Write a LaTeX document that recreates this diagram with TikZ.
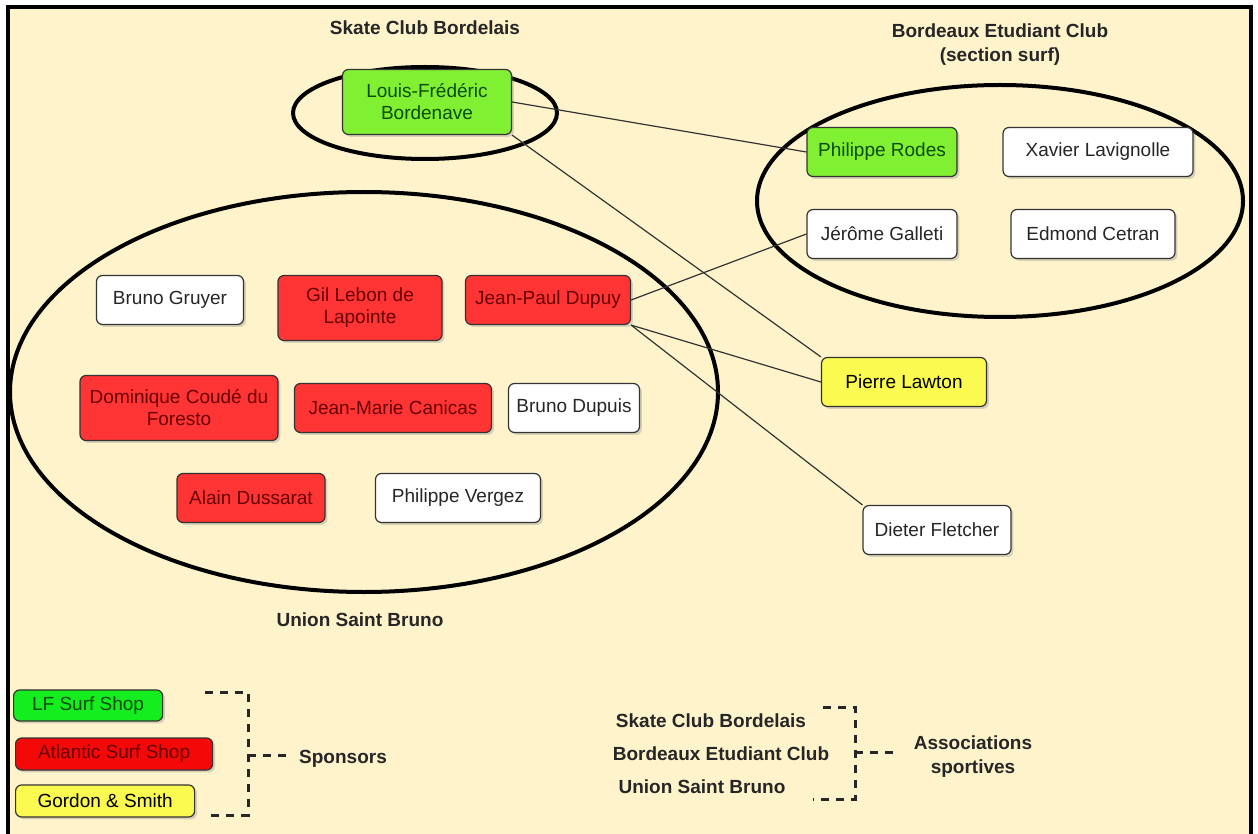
\documentclass[tikz,border=0pt]{standalone}
\usepackage{fontspec}
\setmainfont{Liberation Sans}
\usepackage{tikz}
\usetikzlibrary{positioning,shadows}

\definecolor{paper}{RGB}{255,243,204}
\definecolor{skategreen}{RGB}{130,240,50}
\definecolor{shopgreen}{RGB}{20,238,30}
\definecolor{clubred}{RGB}{255,52,52}
\definecolor{shopred}{RGB}{245,8,8}
\definecolor{gsyellow}{RGB}{250,250,80}
\definecolor{darkgreen}{RGB}{10,75,10}
\definecolor{darkred}{RGB}{105,0,0}

\tikzset{
	member/.style={draw=black!80, line width=0.6pt, rounded corners=3pt, fill=white,
		text=black!85, align=center, minimum height=24.5pt,
		font=\fontsize{9.5}{11}\selectfont,
		drop shadow={opacity=0.3, shadow xshift=1.2pt, shadow yshift=-1.2pt}},
	lfshop/.style={member, fill=skategreen, text=darkgreen},
	atlantic/.style={member, fill=clubred, text=darkred},
	gordon/.style={member, fill=gsyellow, text=black},
	club/.style={line width=2pt, black},
	clubname/.style={font=\bfseries\fontsize{9.5}{12}\selectfont, align=center, text=black!85},
	link/.style={line width=0.6pt, black!80},
	bracket/.style={line width=1.5pt, dash pattern=on 4pt off 3.5pt, black!85}
}

\begin{document}
\begin{tikzpicture}[x=0.5pt, y=-0.5pt]
	\fill[white] (0,0) rectangle (1258,834);
	\useasboundingbox (0,0) rectangle (1258,834);
	\fill[paper] (8,7) rectangle (1251,840);
	\draw[line width=2pt] (8,7) rectangle (1251,840);

	% associations
	\draw[club] (425,113) ellipse [x radius=132, y radius=46];
	\draw[club] (1000,201) ellipse [x radius=243, y radius=116];
	\draw[club] (364,392) ellipse [x radius=354, y radius=200];
	\node[clubname] (scb) at (425,28) {Skate Club Bordelais};
	\node[clubname] (bec) at (1000,45) {Bordeaux Etudiant Club\\(section surf)};
	\node[clubname] (usb) at (360,620) {Union Saint Bruno};

	% Skate Club Bordelais
	\node[lfshop, minimum width=84.5pt, minimum height=32.5pt] (bordenave) at (427,102) {Louis-Frédéric\\Bordenave};

	% Bordeaux Etudiant Club
	\node[lfshop, minimum width=75pt] (rodes) at (882,152) {Philippe Rodes};
	\node[member, minimum width=95pt] (lavignolle) at (1098,152) {Xavier Lavignolle};
	\node[member, minimum width=75pt] (galleti) at (882,234) {Jérôme Galleti};
	\node[member, minimum width=82pt] (cetran) at (1093,234) {Edmond Cetran};

	% Union Saint Bruno
	\node[member, minimum width=73.5pt] (gruyer) at (170,300) {Bruno Gruyer};
	\node[atlantic, minimum width=82pt, minimum height=32.5pt] (lebon) at (360,308) {Gil Lebon de\\Lapointe};
	\node[atlantic, minimum width=82.5pt] (dupuy) at (548,300) {Jean-Paul Dupuy};
	\node[atlantic, minimum width=99pt, minimum height=32.5pt] (foresto) at (179,408) {Dominique Coudé du\\Foresto};
	\node[atlantic, minimum width=98.5pt] (canicas) at (393,408) {Jean-Marie Canicas};
	\node[member, minimum width=65.5pt] (dupuis) at (574,408) {Bruno Dupuis};
	\node[atlantic, minimum width=74pt] (dussarat) at (251,498) {Alain Dussarat};
	\node[member, minimum width=82.5pt] (vergez) at (458,498) {Philippe Vergez};

	% outside
	\node[gordon, minimum width=82.5pt] (lawton) at (904,382) {Pierre Lawton};
	\node[member, minimum width=74pt] (fletcher) at (937,530) {Dieter Fletcher};

	\draw[link] (bordenave.east) -- (rodes.west);
	\draw[link] (bordenave.south east) -- (lawton.north west);
	\draw[link] (dupuy.east) -- (galleti.west);
	\draw[link] (dupuy.south east) -- (lawton.west);
	\draw[link] (dupuy.south east) -- (fletcher.north west);

	% legend: sponsors
	\node[lfshop, fill=shopgreen, minimum width=74.5pt, minimum height=15.5pt, anchor=west] (lfsurf) at (13,705.5) {LF Surf Shop};
	\node[atlantic, fill=shopred, minimum width=98.5pt, minimum height=16pt, anchor=west] (atlsurf) at (15,754) {Atlantic Surf Shop};
	\node[gordon, minimum width=89.5pt, minimum height=16pt, anchor=west] (gands) at (15,801) {Gordon \& Smith};
	\coordinate (spt) at (205,692);
	\coordinate (spb) at (205,815);
	\coordinate (spm) at (248,755);
	\node[clubname] (sponsors) at (343,759) {Sponsors};
	\draw[bracket] (spt) -- (248,692) -- (248,815) -- (spb);
	\draw[bracket] (spm) -- (290,755);

	% legend: associations
	\node[clubname] (lscb) at (711,721) {Skate Club Bordelais};
	\node[clubname] (lbec) at (721,754) {Bordeaux Etudiant Club};
	\node[clubname] (lusb) at (702,787) {Union Saint Bruno};
	\coordinate (ast) at (823,707);
	\coordinate (asb) at (813,799);
	\coordinate (asm) at (855,752);
	\node[clubname] (assoc) at (973,757) {Associations\\sportives};
	\draw[bracket] (ast) -- (855,707) -- (855,799) -- (asb);
	\draw[bracket] (asm) -- (895,752);
\end{tikzpicture}
\end{document}
